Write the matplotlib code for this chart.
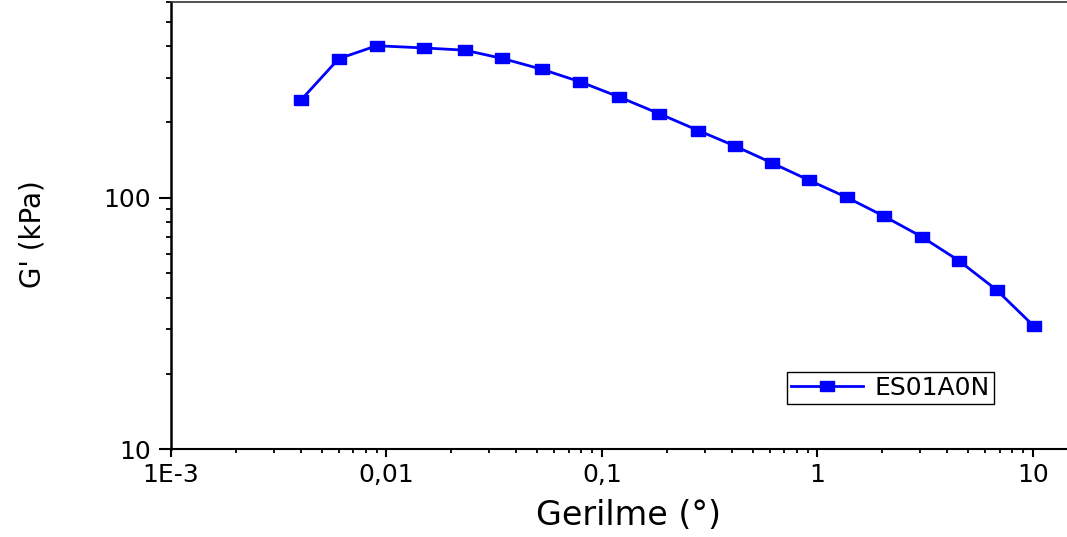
import matplotlib
matplotlib.use('Agg')
import matplotlib.pyplot as plt
from matplotlib.ticker import FixedLocator, LogLocator, NullFormatter

# Strain sweep: storage modulus G' (kPa) against strain
strain = [0.004, 0.006, 0.009, 0.0149, 0.0231, 0.0344, 0.0527, 0.0792,
          0.1195, 0.184, 0.28, 0.414, 0.613, 0.912, 1.366, 2.035,
          3.045, 4.535, 6.785, 10.1]
g_prime = [244, 357, 402, 394, 386, 358, 324, 289,
           252, 216, 185, 160.6, 137.7, 117.5, 100.4, 84.5,
           70.0, 56.2, 43.0, 30.9]

x_ticks = [1e-3, 1e-2, 1e-1, 1, 10]
x_tick_labels = ["1E-3", "0,01", "0,1", "1", "10"]
y_ticks = [10, 100]
y_tick_labels = ["10", "100"]
series_name = "ES01A0N"

BLUE = "#0000FF"

# flat rectangular marker
rect_marker = [(-1, -0.786), (1, -0.786), (1, 0.786), (-1, 0.786), (-1, -0.786)]

fig = plt.figure(figsize=(10.67, 5.37), dpi=100)
ax = fig.add_axes([0.1603, 0.1633, 1 - 0.1603, 0.833])

ax.plot(strain, g_prime, color=BLUE, linewidth=2.0, marker=rect_marker,
        markersize=10, markerfacecolor=BLUE, markeredgecolor=BLUE,
        label=series_name)

ax.set_xscale('log')
ax.set_yscale('log')
ax.set_xlim(1e-3, 14.4)
ax.set_ylim(10, 600)

ax.xaxis.set_major_locator(FixedLocator(x_ticks))
ax.set_xticklabels(x_tick_labels)
ax.xaxis.set_minor_locator(LogLocator(base=10, subs=range(2, 10)))
ax.xaxis.set_minor_formatter(NullFormatter())

ax.yaxis.set_major_locator(FixedLocator(y_ticks))
ax.set_yticklabels(y_tick_labels)
ax.yaxis.set_minor_locator(LogLocator(base=10, subs=range(2, 10)))
ax.yaxis.set_minor_formatter(NullFormatter())

ax.tick_params(axis='x', which='major', direction='out', length=6, width=1.5,
               labelsize=18, pad=4)
ax.tick_params(axis='x', which='minor', direction='out', length=3, width=1.3)
ax.tick_params(axis='y', which='major', direction='out', length=8.5, width=1.5,
               labelsize=18, pad=6)
ax.tick_params(axis='y', which='minor', direction='out', length=3.6, width=1.3)

ax.spines['right'].set_visible(False)
ax.spines['left'].set_linewidth(1.8)
ax.spines['bottom'].set_linewidth(1.5)
ax.spines['top'].set_linewidth(1.2)
ax.spines['top'].set_color('#333333')

ax.set_xlabel("Gerilme (°)", fontsize=24)
ax.xaxis.set_label_coords(0.511, -0.147)
ax.xaxis.label.set_va('center')

ax.set_ylabel("G' (kPa)", fontsize=20)
ax.yaxis.set_label_coords(-0.155, 0.480)
ax.yaxis.label.set_va('center')

leg = ax.legend(loc='upper left', bbox_to_anchor=(787 / 1067, 1 - 372 / 537),
                bbox_transform=fig.transFigure, borderaxespad=0,
                fontsize=18, handlelength=2.9, handletextpad=0.45,
                borderpad=0.15, fancybox=False, framealpha=1)
leg.get_frame().set_edgecolor('black')
leg.get_frame().set_linewidth(1.0)

fig.savefig('out.png', dpi=100, facecolor='white')
plt.close(fig)
